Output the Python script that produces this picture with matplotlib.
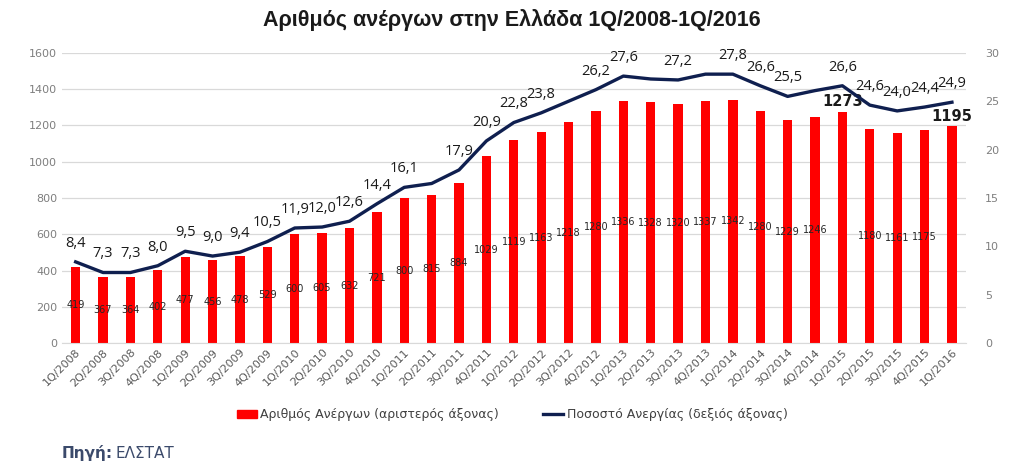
import matplotlib
matplotlib.use("Agg")
import matplotlib.pyplot as plt
from matplotlib.patches import Patch
from matplotlib.lines import Line2D

quarters = ["1Q/2008", "2Q/2008", "3Q/2008", "4Q/2008",
            "1Q/2009", "2Q/2009", "3Q/2009", "4Q/2009",
            "1Q/2010", "2Q/2010", "3Q/2010", "4Q/2010",
            "1Q/2011", "2Q/2011", "3Q/2011", "4Q/2011",
            "1Q/2012", "2Q/2012", "3Q/2012", "4Q/2012",
            "1Q/2013", "2Q/2013", "3Q/2013", "4Q/2013",
            "1Q/2014", "2Q/2014", "3Q/2014", "4Q/2014",
            "1Q/2015", "2Q/2015", "3Q/2015", "4Q/2015",
            "1Q/2016"]
unemployed = [419, 367, 364, 402, 477, 456, 478, 529, 600, 605, 632, 721,
              800, 815, 884, 1029, 1119, 1163, 1218, 1280, 1336, 1328, 1320,
              1337, 1342, 1280, 1229, 1246, 1273, 1180, 1161, 1175, 1195]
rate = [8.4, 7.3, 7.3, 8.0, 9.5, 9.0, 9.4, 10.5, 11.9, 12.0, 12.6, 14.4,
        16.1, 16.5, 17.9, 20.9, 22.8, 23.8, 25.0, 26.2, 27.6, 27.3, 27.2,
        27.8, 27.8, 26.6, 25.5, 26.1, 26.6, 24.6, 24.0, 24.4, 24.9]
rate_labelled = [True, True, True, True, True, True, True, True, True, True, True, True,
                 True, False, True, True, True, True, False, True, True, False, True,
                 False, True, True, True, False, True, True, True, True, True]
bold_bars = ["1Q/2015", "1Q/2016"]

title = "Αριθμός ανέργων στην Ελλάδα 1Q/2008-1Q/2016"
legend_bar = "Αριθμός Ανέργων (αριστερός άξονας)"
legend_line = "Ποσοστό Ανεργίας (δεξιός άξονας)"

RED = "#ff0000"
NAVY = "#0f1f4f"
GRAY = "#7f7f7f"

fig = plt.figure(figsize=(10.24, 4.72), dpi=100)
ax = fig.add_axes([0.0605, 0.273, 0.8825, 0.615])
ax2 = ax.twinx()

x = list(range(len(quarters)))
ax.bar(x, unemployed, width=0.34, color=RED, zorder=2)
ax.set_xlim(-0.5, len(quarters) - 0.5)
ax.set_ylim(0, 1600)
ax.set_yticks(range(0, 1601, 200))
ax.grid(axis="y", color="#d9d9d9", linewidth=0.9, zorder=0)
ax.set_axisbelow(True)
for s in ax.spines.values():
    s.set_visible(False)
for s in ax2.spines.values():
    s.set_visible(False)
ax.spines["bottom"].set_visible(True)
ax.spines["bottom"].set_color("#d9d9d9")
ax.tick_params(axis="both", length=0, colors=GRAY, labelsize=8)
ax.set_xticks(x)
ax.set_xticklabels(quarters, rotation=45, ha="right", rotation_mode="anchor",
                   fontsize=8, color="#595959")
ax.tick_params(axis="x", pad=3)

for xi, v, q in zip(x, unemployed, quarters):
    if q in bold_bars:
        ax.text(xi, v + 15, str(v), ha="center", va="bottom", fontsize=10.5,
                fontweight="bold", color="#1a1a1a", zorder=4)
    else:
        ax.text(xi, v / 2, str(v), ha="center", va="center", fontsize=7,
                color="#262626", zorder=4)

ax2.plot(x, rate, color=NAVY, linewidth=2.4, zorder=3)
ax2.set_ylim(0, 30)
ax2.set_yticks(range(0, 31, 5))
ax2.tick_params(axis="y", length=0, colors=GRAY, labelsize=8, pad=14)

for xi, v, show in zip(x, rate, rate_labelled):
    if show:
        ax2.annotate(f"{v:.1f}".replace(".", ","), (xi, v), xytext=(0, 8),
                     textcoords="offset points", ha="center", va="bottom",
                     fontsize=10.5, color="#1a1a1a", family="Open Sans")

fig.text(0.5, 0.958, title, ha="center", va="center", fontsize=15.5,
         fontweight="bold", family="Liberation Sans", color="#1a1a1a")

handles = [Patch(facecolor=RED, edgecolor=RED),
           Line2D([0], [0], color=NAVY, linewidth=2.4)]
fig.legend(handles, [legend_bar, legend_line], loc="center",
           bbox_to_anchor=(0.5, 0.121), ncol=2, frameon=False, fontsize=9,
           handlelength=1.6, handletextpad=0.3, columnspacing=3.5,
           labelcolor="#404040")

fig.text(0.060, 0.040, "Πηγή:", ha="left", va="center", fontsize=11,
         fontweight="bold", color="#3b4a6b")
fig.text(0.113, 0.040, "ΕΛΣΤΑΤ", ha="left", va="center", fontsize=11,
         color="#3b4a6b")

fig.savefig("out.png", dpi=100)
